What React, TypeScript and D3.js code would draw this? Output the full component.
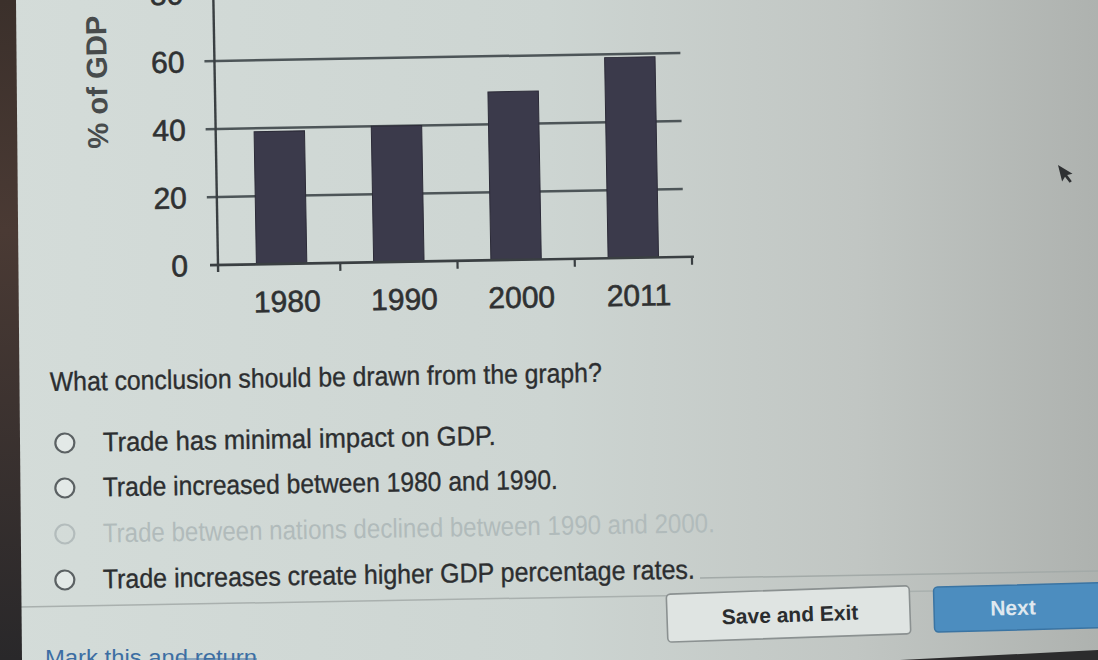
import React from "react";
import * as d3 from "d3";

const categories = ["1980", "1990", "2000", "2011"];
const values = [39, 40, 49.5, 59];
const yTicks = [0, 20, 40, 60, 80];
const yLabel = "% of GDP";
const question = "What conclusion should be drawn from the graph?";
const answerOptions = [
  "Trade has minimal impact on GDP.",
  "Trade increased between 1980 and 1990.",
  "Trade between nations declined between 1990 and 2000.",
  "Trade increases create higher GDP percentage rates.",
];
const optionWidths = [393, 455, 612, 592];
const optionFaded = [false, false, true, false];

const W = 1098;
const H = 660;
const FONT = "'Liberation Sans', Arial, sans-serif";

export default function App() {
  const x = d3.scaleBand<string>().domain(categories).range([223, 692]).padding(0);
  const y = d3.scaleLinear().domain([0, 80]).range([265, -7]);
  const barW = x.bandwidth() * 0.43;
  const boundaries = categories.map((c) => (x(c) as number)).slice(1);

  const optBaselines = [450, 495, 541, 587];

  return (
    <svg
      width={W}
      height={H}
      style={{ position: "fixed", left: 0, top: 0, display: "block" }}
      fontFamily={FONT}
    >
      <defs>
        <linearGradient id="bg" x1="0" y1="0" x2="1" y2="0">
          <stop offset="0" stopColor="#d4dcd9" />
          <stop offset="0.5" stopColor="#cdd5d2" />
          <stop offset="0.78" stopColor="#c1c6c3" />
          <stop offset="1" stopColor="#aeb2af" />
        </linearGradient>
        <linearGradient id="edge" x1="0" y1="0" x2="0" y2="1">
          <stop offset="0" stopColor="#3b302b" />
          <stop offset="0.35" stopColor="#4a3a34" />
          <stop offset="1" stopColor="#29282a" />
        </linearGradient>
      </defs>
      <rect x={0} y={0} width={W} height={H} fill="url(#bg)" />

      {/* chart, slightly tilted as in the photo */}
      <g transform="rotate(-1, 218, 265)">
        {yTicks.filter((t) => t > 0).map((t) => (
          <line key={"g" + t} x1={208} x2={684} y1={y(t)} y2={y(t)} stroke="#4d5558" strokeWidth={2.5} />
        ))}
        {categories.map((c, i) => {
          const cx = (x(c) as number) + x.bandwidth() / 2;
          return (
            <rect
              key={c}
              x={cx - barW / 2}
              y={y(values[i])}
              width={barW}
              height={y(0) - y(values[i])}
              fill="#3b3a4b"
              stroke="#2c2b38"
              strokeWidth={1}
            />
          );
        })}
        {/* axes */}
        <line x1={218} x2={218} y1={-10} y2={272} stroke="#3a3f42" strokeWidth={2.4} />
        <line x1={210} x2={694} y1={y(0)} y2={y(0)} stroke="#3a3f42" strokeWidth={2.6} />
        {boundaries.concat([692]).map((b, i) => (
          <line key={"t" + i} x1={b} x2={b} y1={y(0)} y2={y(0) + 8} stroke="#3a3f42" strokeWidth={2.2} />
        ))}
        {yTicks.map((t) => (
          <text
            key={"yl" + t}
            x={188}
            y={y(t)}
            dy="0.36em"
            textAnchor="end"
            fontSize={30}
            fill="#2f3132"
            stroke="#2f3132"
            strokeWidth={0.6}
          >
            {t}
          </text>
        ))}
        {categories.map((c) => (
          <text
            key={"xl" + c}
            x={(x(c) as number) + x.bandwidth() / 2 + 5}
            y={313}
            textAnchor="middle"
            fontSize={30}
            fill="#2f3132"
            stroke="#2f3132"
            strokeWidth={0.6}
          >
            {c}
          </text>
        ))}
      </g>

      {/* y axis title */}
      <text
        transform="translate(107, 82) rotate(-91)"
        textAnchor="middle"
        fontSize={29}
        fontWeight="bold"
        fill="#474b4c"
        textLength={133}
        lengthAdjust="spacingAndGlyphs"
      >
        {yLabel}
      </text>

      {/* question */}
      <text
        x={50}
        y={391}
        transform="rotate(-0.95, 50, 391)"
        fontSize={27}
        fill="#2c2e30"
        stroke="#2c2e30"
        strokeWidth={0.35}
        textLength={552}
        lengthAdjust="spacingAndGlyphs"
      >
        {question}
      </text>

      {answerOptions.map((o, i) => {
        const by = optBaselines[i] + 2;
        const faded = optionFaded[i];
        return (
          <g key={o} transform={`rotate(-0.95, 65, ${by})`}>
            <circle
              cx={65}
              cy={by - 9}
              r={9.5}
              fill={faded ? "none" : "#e3e9e7"}
              stroke={faded ? "#b3bcbc" : "#5b6163"}
              strokeWidth={2.2}
            />
            <text
              x={103}
              y={by}
              fontSize={27}
              fill={faded ? "#b1bbbb" : "#2c2e30"}
              stroke={faded ? "none" : "#2c2e30"}
              strokeWidth={0.35}
              textLength={optionWidths[i]}
              lengthAdjust="spacingAndGlyphs"
            >
              {o}
            </text>
          </g>
        );
      })}

      {/* separator lines */}
      <line x1={20} y1={607} x2={W} y2={588} stroke="#a9b0ae" strokeWidth={1.5} />
      <line x1={700} y1={578} x2={W} y2={571} stroke="#a3aaa8" strokeWidth={1.5} />

      {/* buttons */}
      <g transform="rotate(-2, 788, 614)">
        <rect x={667} y={590} width={243} height={48} rx={4} fill="#dfe4e2" stroke="#8b9191" strokeWidth={1.6} />
        <text x={790} y={622} textAnchor="middle" fontSize={21} fontWeight="bold" fill="#2a2c2e">
          Save and Exit
        </text>
      </g>
      <g transform="rotate(-1.5, 1014, 607)">
        <rect x={934} y={585} width={170} height={45} rx={4} fill="#4c8dbf" stroke="#3a74a3" strokeWidth={1.5} />
        <text x={1013} y={615} textAnchor="middle" fontSize={21} fontWeight="bold" fill="#dfe8ef">
          Next
        </text>
      </g>

      {/* link at the bottom */}
      <text x={45} y={665} fontSize={22} fill="#3c6ea3" textLength={212} lengthAdjust="spacingAndGlyphs">
        Mark this and return
      </text>
      <line x1={176} x2={257} y1={659} y2={659} stroke="#3c6ea3" strokeWidth={1.2} />

      {/* photo edges */}
      <polygon points="0,0 16,0 22,660 0,660" fill="url(#edge)" />
      <polygon points="900,660 1098,650 1098,660" fill="#2c2c2d" />

      {/* mouse pointer */}
      <path
        d="M0,0 L0,17 L4,13 L7,20 L9.5,19 L6.5,12 L12,12 Z"
        transform="translate(1058, 165) rotate(-14)"
        fill="#2f3133"
      />
    </svg>
  );
}
